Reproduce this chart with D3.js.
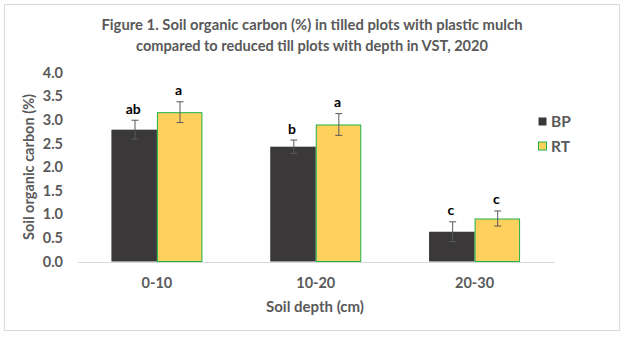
<!DOCTYPE html>
<html>
<head>
<meta charset="utf-8">
<script src="https://cdn.jsdelivr.net/npm/d3@7"></script>
<style>
  html, body { margin: 0; padding: 0; background: #fff; }
  svg { display: block; font-family: Lato, "Open Sans", sans-serif; font-weight: bold; }
</style>
</head>
<body>
<svg id="chart" width="624" height="337"></svg>
<script>
// Soil organic carbon by depth for the two tillage treatments
const depths = ["0-10", "10-20", "20-30"];
const seriesNames = ["BP", "RT"];
const bpValues = [2.79, 2.43, 0.63];
const rtValues = [3.16, 2.90, 0.91];
const bpErrors = [0.20, 0.14, 0.21];
const rtErrors = [0.22, 0.23, 0.16];
const bpLetters = ["ab", "b", "c"];
const rtLetters = ["a", "a", "c"];
const yTicks = [0, 0.5, 1, 1.5, 2, 2.5, 3, 3.5, 4];
const titleLines = [
  "Figure 1. Soil organic carbon (%) in tilled plots with plastic mulch",
  "compared to reduced till plots with depth in VST, 2020"
];

const colors = { BP: "#3a3838", RT: "#fed15f" };
const strokes = { BP: "none", RT: "#1fb24a" };
const textGray = "#595959";

const rows = depths.map((d, i) => ({
  depth: d,
  bars: [
    { key: "BP", value: bpValues[i], err: bpErrors[i], letter: bpLetters[i] },
    { key: "RT", value: rtValues[i], err: rtErrors[i], letter: rtLetters[i] }
  ]
}));

const svg = d3.select("#chart");

// chart frame
svg.append("rect")
  .attr("x", 4.5).attr("y", 4.5)
  .attr("width", 615).attr("height", 326)
  .attr("fill", "#fff")
  .attr("stroke", "#d9d9d9");

const x0 = d3.scaleBand().domain(depths).range([77.5, 554]).padding(0);
const x1 = d3.scaleBand().domain(seriesNames).range([0, x0.bandwidth()])
  .paddingInner(0).paddingOuter(0.745);
const y = d3.scaleLinear().domain([0, 4]).range([261.5, 72.5]);

// title
svg.append("g").selectAll("text")
  .data(titleLines)
  .join("text")
  .attr("x", 312)
  .attr("y", (d, i) => 30 + i * 21)
  .attr("text-anchor", "middle")
  .attr("fill", textGray)
  .attr("font-size", 14.5)
  .attr("textLength", (d, i) => i === 0 ? 421 : 352)
  .attr("lengthAdjust", "spacingAndGlyphs")
  .text(d => d);

// y axis (labels only)
const yAxis = svg.append("g")
  .attr("transform", "translate(63,0)")
  .call(d3.axisLeft(y).tickValues(yTicks).tickFormat(d3.format(".1f")).tickSize(0).tickPadding(0));
yAxis.select(".domain").remove();
yAxis.selectAll("text")
  .attr("fill", textGray)
  .attr("font-size", 14.5)
  .attr("font-family", "Lato, sans-serif")
  .attr("font-weight", "bold");

// x axis
const xAxis = svg.append("g")
  .attr("transform", `translate(0,${y(0) + 0.5})`)
  .call(d3.axisBottom(x0).tickSize(0).tickPadding(16));
xAxis.select(".domain").attr("stroke", "#d9d9d9").attr("stroke-width", 1);
xAxis.selectAll("text")
  .attr("fill", textGray)
  .attr("font-size", 14.5)
  .attr("font-family", "Lato, sans-serif")
  .attr("font-weight", "bold");

// axis titles
svg.append("text")
  .attr("transform", `translate(34,${(y(0) + y(4)) / 2}) rotate(-90)`)
  .attr("text-anchor", "middle")
  .attr("fill", textGray)
  .attr("font-size", 14.5)
  .attr("textLength", 146)
  .attr("lengthAdjust", "spacingAndGlyphs")
  .text("Soil organic carbon (%)");

svg.append("text")
  .attr("x", 315)
  .attr("y", 312)
  .attr("text-anchor", "middle")
  .attr("fill", textGray)
  .attr("font-size", 14.5)
  .attr("textLength", 98)
  .attr("lengthAdjust", "spacingAndGlyphs")
  .text("Soil depth (cm)");

// bars
const groups = svg.append("g").selectAll("g")
  .data(rows)
  .join("g")
  .attr("transform", d => `translate(${x0(d.depth)},0)`);

groups.selectAll("rect")
  .data(d => d.bars)
  .join("rect")
  .attr("x", d => x1(d.key) + (d.key === "RT" ? 0.5 : 0))
  .attr("y", d => y(d.value) + (d.key === "RT" ? 0.5 : 0))
  .attr("width", d => x1.bandwidth() - (d.key === "RT" ? 1 : 0))
  .attr("height", d => y(0) - y(d.value) - (d.key === "RT" ? 0.5 : 0))
  .attr("fill", d => colors[d.key])
  .attr("stroke", d => strokes[d.key])
  .attr("stroke-width", 1);

// error bars
const errG = groups.selectAll("g.err")
  .data(d => d.bars)
  .join("g")
  .attr("class", "err")
  .attr("stroke", "#595959")
  .attr("stroke-width", 1);

const cx = d => Math.round(x1(d.key) + x1.bandwidth() / 2) + 0.5;
errG.append("line")
  .attr("x1", cx).attr("x2", cx)
  .attr("y1", d => y(d.value + d.err)).attr("y2", d => y(d.value - d.err));
errG.append("line")
  .attr("x1", d => cx(d) - 3.5).attr("x2", d => cx(d) + 3.5)
  .attr("y1", d => y(d.value + d.err)).attr("y2", d => y(d.value + d.err));
errG.append("line")
  .attr("x1", d => cx(d) - 3.5).attr("x2", d => cx(d) + 3.5)
  .attr("y1", d => y(d.value - d.err)).attr("y2", d => y(d.value - d.err));

// significance letters
groups.selectAll("text.letter")
  .data(d => d.bars)
  .join("text")
  .attr("class", "letter")
  .attr("x", d => x1(d.key) + x1.bandwidth() / 2 - 1)
  .attr("y", d => y(d.value + d.err) - 6.5)
  .attr("text-anchor", "middle")
  .attr("fill", "#000")
  .attr("font-size", 14)
  .text(d => d.letter);

// legend
const legend = svg.append("g").selectAll("g")
  .data(seriesNames)
  .join("g")
  .attr("transform", (d, i) => `translate(538.5,${117.5 + i * 24.5})`);
legend.append("rect")
  .attr("width", 8).attr("height", 8)
  .attr("fill", d => colors[d])
  .attr("stroke", d => d === "RT" ? strokes.RT : "none");
legend.append("text")
  .attr("x", 12.5)
  .attr("y", 9.5)
  .attr("fill", textGray)
  .attr("font-size", 15.5)
  .text(d => d);
</script>
</body>
</html>
